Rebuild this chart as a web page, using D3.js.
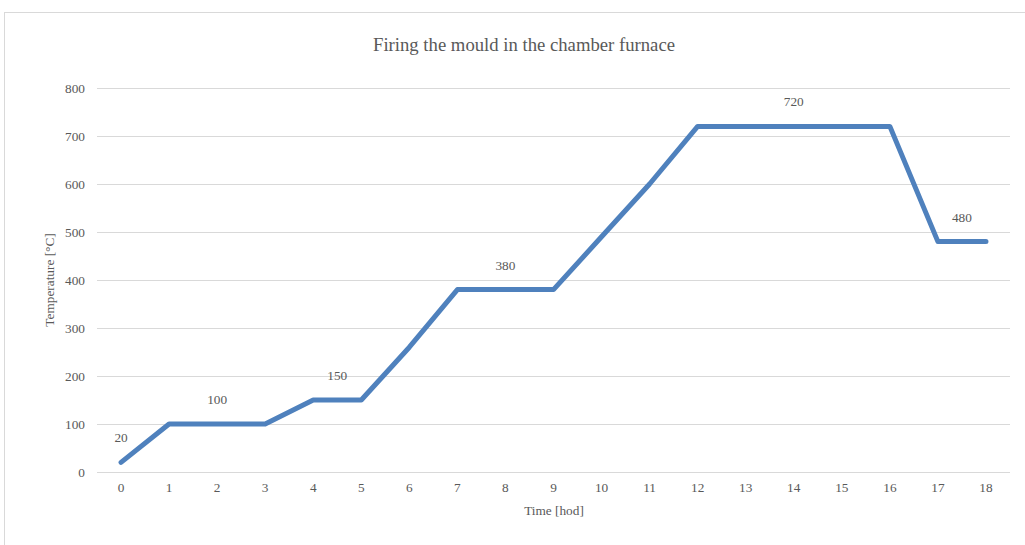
<!DOCTYPE html>
<html>
<head>
<meta charset="utf-8">
<script src="https://cdn.jsdelivr.net/npm/d3@7"></script>
<style>
  html, body { margin: 0; padding: 0; background: #fff; }
  svg { display: block; }
  text { font-family: "Liberation Serif", "Times New Roman", serif; fill: #595959; }
</style>
</head>
<body>
<svg id="chart" width="1025" height="545"></svg>
<script>
// Firing schedule: hour -> furnace temperature
const hours = [0, 1, 2, 3, 4, 5, 6, 7, 8, 9, 10, 11, 12, 13, 14, 15, 16, 17, 18];
const temps = [20, 100, 100, 100, 150, 150, 260, 380, 380, 380, 490, 600, 720, 720, 720, 720, 720, 480, 480];
const yTicks = [0, 100, 200, 300, 400, 500, 600, 700, 800];
// Labels for each holding stage: [first hour, last hour] of the plateau and its text
const stageFrom = [0, 1, 4, 7, 12, 17];
const stageTo   = [0, 3, 5, 9, 16, 18];
const stageText = ["20", "100", "150", "380", "720", "480"];

const svg = d3.select("#chart");
const W = 1025, H = 545;
const m = { left: 97, right: 1010, top: 88, bottom: 472 };
const labelSize = "13.3px";

// outer frame
svg.append("rect")
  .attr("x", 4.5).attr("y", 12.5)
  .attr("width", W + 20).attr("height", H + 20)
  .attr("fill", "none").attr("stroke", "#d9d9d9").attr("stroke-width", 1);

const x = d3.scaleBand().domain(hours).range([m.left, m.right]);
const xc = d => x(d) + x.bandwidth() / 2;
const y = d3.scaleLinear().domain([0, 800]).range([m.bottom, m.top]);

// horizontal gridlines
svg.append("g")
  .selectAll("line").data(yTicks).join("line")
  .attr("x1", m.left).attr("x2", m.right)
  .attr("y1", d => Math.round(y(d)) + 0.5).attr("y2", d => Math.round(y(d)) + 0.5)
  .attr("stroke", "#d9d9d9").attr("stroke-width", 1);

// y axis labels
const yAxis = d3.axisLeft(y).tickValues(yTicks).tickSize(0).tickPadding(12);
svg.append("g").attr("transform", `translate(${m.left},0)`).call(yAxis)
  .call(g => g.select(".domain").remove())
  .call(g => g.selectAll("text").style("font-size", labelSize)
    .style("font-family", '"Liberation Serif", serif'));

// x axis labels
const xAxis = d3.axisBottom(x).tickSize(0).tickPadding(11);
svg.append("g").attr("transform", `translate(0,${m.bottom})`).call(xAxis)
  .call(g => g.select(".domain").remove())
  .call(g => g.selectAll("text").style("font-size", labelSize)
    .style("font-family", '"Liberation Serif", serif'));

// title
svg.append("text")
  .attr("x", 524).attr("y", 51)
  .attr("text-anchor", "middle")
  .style("font-size", "18.7px")
  .text("Firing the mould in the chamber furnace");

// axis titles
svg.append("text")
  .attr("x", 554).attr("y", 515)
  .attr("text-anchor", "middle")
  .style("font-size", labelSize)
  .text("Time [hod]");

svg.append("text")
  .attr("transform", `translate(54,${(m.top + m.bottom) / 2}) rotate(-90)`)
  .attr("text-anchor", "middle")
  .style("font-size", labelSize)
  .text("Temperature [°C]");

// temperature curve
const line = d3.line().x((d, i) => xc(hours[i])).y(d => y(d));
svg.append("path")
  .datum(temps)
  .attr("d", line)
  .attr("fill", "none")
  .attr("stroke", "#4f81bd")
  .attr("stroke-width", 5)
  .attr("stroke-linecap", "round")
  .attr("stroke-linejoin", "round");

// stage labels centred over each plateau
svg.append("g")
  .selectAll("text").data(stageText).join("text")
  .attr("x", (d, i) => (xc(stageFrom[i]) + xc(stageTo[i])) / 2)
  .attr("y", (d, i) => y(temps[stageFrom[i]]) - 20)
  .attr("text-anchor", "middle")
  .style("font-size", labelSize)
  .text(d => d);
</script>
</body>
</html>
